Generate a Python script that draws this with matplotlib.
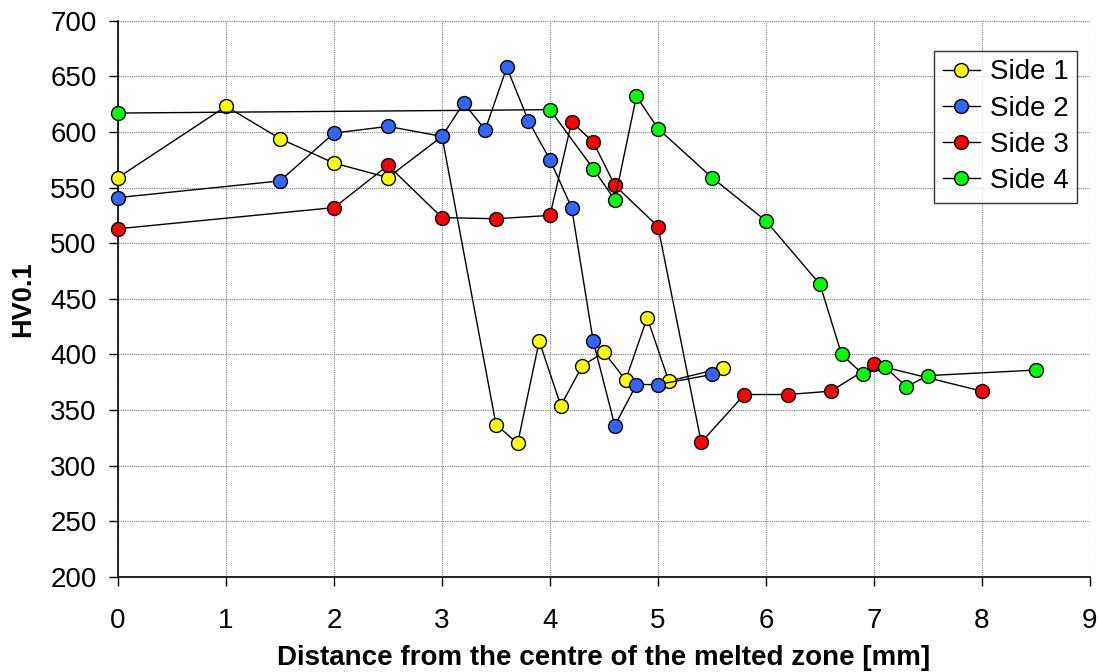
import matplotlib
matplotlib.use("Agg")
import matplotlib.pyplot as plt

plt.rcParams["font.family"] = ["Liberation Sans", "DejaVu Sans"]

# hardness profiles
side1_x = [0, 1, 1.5, 2, 2.5, 3, 3.5, 3.7, 3.9, 4.1, 4.3, 4.5, 4.7, 4.9, 5.1, 5.6]
side1_y = [559, 623, 594, 572, 559, 596, 337, 320, 412, 354, 390, 402, 377, 433, 376, 388]

side2_x = [0, 1.5, 2, 2.5, 3, 3.2, 3.4, 3.6, 3.8, 4, 4.2, 4.4, 4.6, 4.8, 5, 5.5]
side2_y = [541, 556, 599, 605, 596, 626, 602, 658, 610, 575, 532, 412, 336, 373, 373, 382]

side3_x = [0, 2, 2.5, 3, 3.5, 4, 4.2, 4.4, 4.6, 5, 5.4, 5.8, 6.2, 6.6, 7, 8]
side3_y = [513, 532, 570, 523, 522, 525, 609, 591, 552, 515, 321, 364, 364, 367, 391, 367]

side4_x = [0, 4, 4.4, 4.6, 4.8, 5, 5.5, 6, 6.5, 6.7, 6.9, 7.1, 7.3, 7.5, 8.5]
side4_y = [617, 620, 567, 539, 632, 603, 559, 520, 463, 400, 382, 389, 371, 381, 386]

labels = ["Side 1", "Side 2", "Side 3", "Side 4"]
colors = ["#FFFF00", "#3366FF", "#FF0000", "#00FF00"]

fig = plt.figure(figsize=(10.99, 6.72), dpi=100)
ax = fig.add_axes([0.1074, 0.1414, 0.8844, 0.8278])

series = [(side1_x, side1_y), (side2_x, side2_y), (side3_x, side3_y), (side4_x, side4_y)]
for (xs, ys), lab, col in zip(series, labels, colors):
    ax.plot(xs, ys, color="black", lw=1.0, marker="o", ms=10,
            mfc=col, mec="black", mew=1.0, label=lab, clip_on=False, zorder=3)

ax.set_xlim(0, 9)
ax.set_ylim(200, 700)
ax.set_xticks(range(0, 10))
ax.set_yticks(range(200, 701, 50))

ax.grid(True, color="#7a7a7a", lw=0.8, ls=(0, (1, 1)))
ax.set_axisbelow(True)
for s in ["top", "right"]:
    ax.spines[s].set_visible(False)
for s in ["left", "bottom"]:
    ax.spines[s].set_linewidth(1.2)

ax.tick_params(axis="both", direction="out", length=6.5, width=1.0, labelsize=20)
ax.tick_params(axis="x", pad=15.5)
ax.tick_params(axis="y", pad=9)

ax.set_xlabel("Distance from the centre of the melted zone [mm]",
              fontsize=20, fontweight="bold", labelpad=8)
ax.set_ylabel("HV0.1", fontsize=19.5, fontweight="bold", labelpad=10)

leg = ax.legend(loc="upper right", bbox_to_anchor=(1077 / 1099, 1 - 51 / 672),
                bbox_transform=fig.transFigure, fontsize=20, frameon=True,
                fancybox=False, edgecolor="black", borderaxespad=0,
                handlelength=1.35, labelspacing=0.37, handletextpad=0.35,
                borderpad=0.3)
leg.get_frame().set_linewidth(1.0)

fig.savefig("out.png", dpi=100)
